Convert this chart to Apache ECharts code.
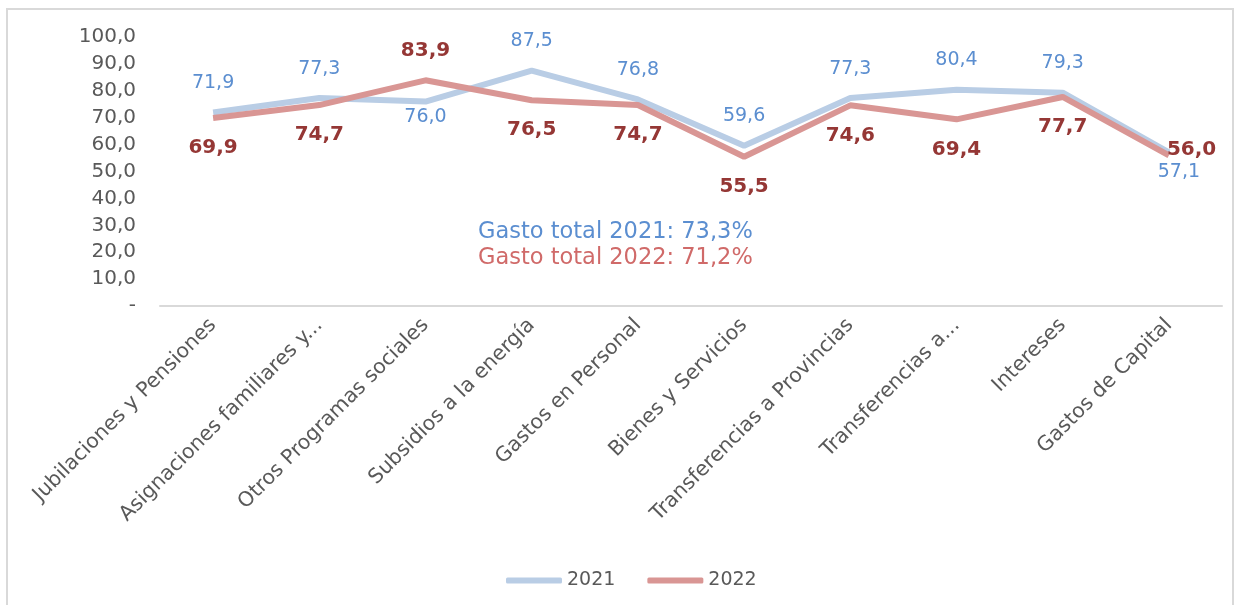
<!DOCTYPE html>
<html>
<head>
<meta charset="utf-8">
<script src="https://cdn.jsdelivr.net/npm/echarts@6/dist/echarts.min.js"></script>
<style>
 html, body { margin: 0; padding: 0; background: #fff; }
 #frame { position: absolute; left: 6px; top: 8px; width: 1228px; height: 620px; border: 2px solid #d9d9d9; box-sizing: border-box; }
 #chart { width: 1241px; height: 605px; }
</style>
</head>
<body>
<div id="frame"></div>
<div id="chart"></div>
<script>
 var categories = ['Jubilaciones y Pensiones', 'Asignaciones familiares y...', 'Otros Programas sociales',
     'Subsidios a la energía', 'Gastos en Personal', 'Bienes y Servicios',
     'Transferencias a Provincias', 'Transferencias a...', 'Intereses', 'Gastos de Capital'];
 var values2021 = [71.9, 77.3, 76.0, 87.5, 76.8, 59.6, 77.3, 80.4, 79.3, 57.1];
 var values2022 = [69.9, 74.7, 83.9, 76.5, 74.7, 55.5, 74.6, 69.4, 77.7, 56.0];
 // where each value label sits
 var pos2021 = ['top', 'top', 'bottom', 'top', 'top', 'top', 'top', 'top', 'top', 'bottom'];
 var pos2022 = ['bottom', 'bottom', 'top', 'bottom', 'bottom', 'bottom', 'bottom', 'bottom', 'bottom', 'right'];
 var totalText = ['Gasto total 2021: 73,3%', 'Gasto total 2022: 71,2%'];

 var FONT = 'DejaVu Sans';

 function fmt(v) {
     return v.toFixed(1).replace('.', ',');
 }

 function buildData(vals, pos) {
     return vals.map(function (v, i) {
         var lab = { position: pos[i] };
         if (pos[i] === 'bottom' && i === vals.length - 1) { lab.offset = [10, -10]; }
         else if (pos[i] === 'bottom' && pos[0] === 'top') { lab.distance = 6; }
         if (pos[i] === 'right') { lab.offset = [-22, -6]; }
         return { value: v, label: lab };
     });
 }

 var myChart = echarts.init(document.getElementById('chart'));

 var option = {
     animation: false,
     grid: { left: 160, right: 19, top: 37, bottom: 299 },
     legend: {
         bottom: 10,
         left: 501,
         itemWidth: 56,
         itemHeight: 6,
         itemGap: 32,
         icon: 'roundRect',
         textStyle: { fontFamily: FONT, fontSize: 19, color: '#595959' },
         data: ['2021', '2022']
     },
     xAxis: {
         type: 'category',
         data: categories,
         axisLine: { lineStyle: { color: '#d9d9d9', width: 2 } },
         axisTick: { show: false },
         axisLabel: {
             rotate: 45,
             interval: 0,
             margin: 16,
             fontFamily: FONT,
             fontSize: 20.5,
             color: '#595959'
         }
     },
     yAxis: {
         type: 'value',
         min: 0,
         max: 100,
         interval: 10,
         splitLine: { show: false },
         axisLine: { show: false },
         axisTick: { show: false },
         axisLabel: {
             margin: 24,
             fontFamily: FONT,
             fontSize: 20,
             color: '#595959',
             formatter: function (v) { return v === 0 ? '-' : fmt(v); }
         }
     },
     series: [
         {
             name: '2021',
             type: 'line',
             data: buildData(values2021, pos2021),
             symbol: 'circle',
             symbolSize: 0,
             showSymbol: true,
             lineStyle: { color: '#b9cde5', width: 6 },
             itemStyle: { color: '#b9cde5' },
             label: {
                 show: true,
                 distance: 20,
                 fontFamily: FONT,
                 fontSize: 19,
                 color: '#5b8ed0',
                 formatter: function (p) { return fmt(p.value); }
             }
         },
         {
             name: '2022',
             type: 'line',
             data: buildData(values2022, pos2022),
             symbol: 'circle',
             symbolSize: 0,
             showSymbol: true,
             lineStyle: { color: '#d99694', width: 6 },
             itemStyle: { color: '#d99694' },
             label: {
                 show: true,
                 distance: 20,
                 fontFamily: FONT,
                 fontSize: 20,
                 fontWeight: 'bold',
                 color: '#953735',
                 formatter: function (p) { return fmt(p.value); }
             }
         }
     ],
     graphic: [
         {
             type: 'text', left: 478, top: 221,
             style: { text: totalText[0], font: '22.5px ' + FONT, fill: '#5b8ed0' }
         },
         {
             type: 'text', left: 478, top: 247,
             style: { text: totalText[1], font: '22.5px ' + FONT, fill: '#d06a69' }
         }
     ]
 };

 myChart.setOption(option);
</script>
</body>
</html>
